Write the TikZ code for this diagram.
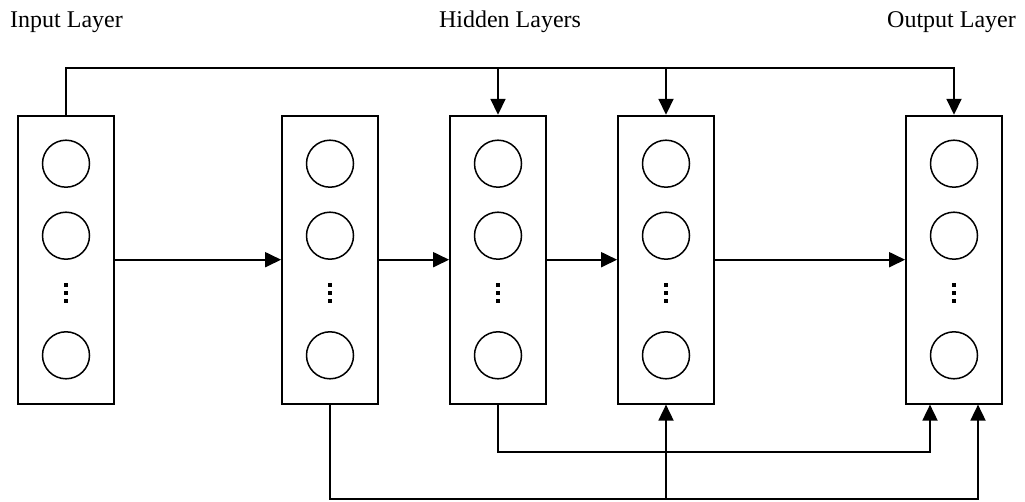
\documentclass[tikz,border=0pt]{standalone}
\usepackage{fontspec}
\setmainfont{Liberation Serif}
\usetikzlibrary{arrows.meta}

\tikzset{
  layerbox/.style={draw, line width=1.8pt, minimum width=96pt, minimum height=288pt, inner sep=0pt},
  neuron/.style={draw, circle, line width=1.5pt, minimum size=47pt, inner sep=0pt},
  dotsq/.style={fill=black, minimum size=4pt, inner sep=0pt},
  arr/.style={line width=1.8pt, -{Triangle[length=16pt,width=15pt]}},
  caption/.style={font=\fontsize{24}{28}\selectfont, inner sep=0pt}
}

\begin{document}
\begin{tikzpicture}[x=1pt, y=-1pt]
  \useasboundingbox (0,0) rectangle (1025,502);

  % headings
  \node[caption, anchor=base west] (capin) at (10,28) {Input Layer};
  \node[caption, anchor=base] (caphid) at (510,28) {Hidden Layers};
  \node[caption, anchor=base east] (capout) at (1016,28) {Output Layer};

  % layers with their neurons and ellipsis dots
  \foreach \name/\x in {in/66, ha/330, hb/498, hc/666, out/954} {
    \node[layerbox] (\name) at (\x,259.7) {};
    \node[neuron] (\name-n1) at (\x,163.7) {};
    \node[neuron] (\name-n2) at (\x,235.7) {};
    \node[neuron] (\name-n3) at (\x,355.3) {};
    \node[dotsq] (\name-d1) at (\x,285) {};
    \node[dotsq] (\name-d2) at (\x,293) {};
    \node[dotsq] (\name-d3) at (\x,301) {};
  }

  % routing levels
  \coordinate (topy) at (0,68);
  \coordinate (midy) at (0,451.7);
  \coordinate (boty) at (0,499);
  \coordinate (outL) at ([xshift=-24pt]out.south);
  \coordinate (outR) at ([xshift=24pt]out.south);

  % forward connections
  \draw[arr] (in.east) -- (ha.west);
  \draw[arr] (ha.east) -- (hb.west);
  \draw[arr] (hb.east) -- (hc.west);
  \draw[arr] (hc.east) -- (out.west);

  % skip connections from the input along the top
  \draw[arr] (in.north) |- (out.north |- topy) -- (out.north);
  \draw[arr] (hb.north |- topy) -- (hb.north);
  \draw[arr] (hc.north |- topy) -- (hc.north);

  % skip connections along the bottom
  \draw[arr] (hb.south) |- (outL |- midy) -- (outL);
  \draw[arr] (ha.south) |- (outR |- boty) -- (outR);
  \draw[arr] (hc.south |- boty) -- (hc.south);
\end{tikzpicture}
\end{document}
